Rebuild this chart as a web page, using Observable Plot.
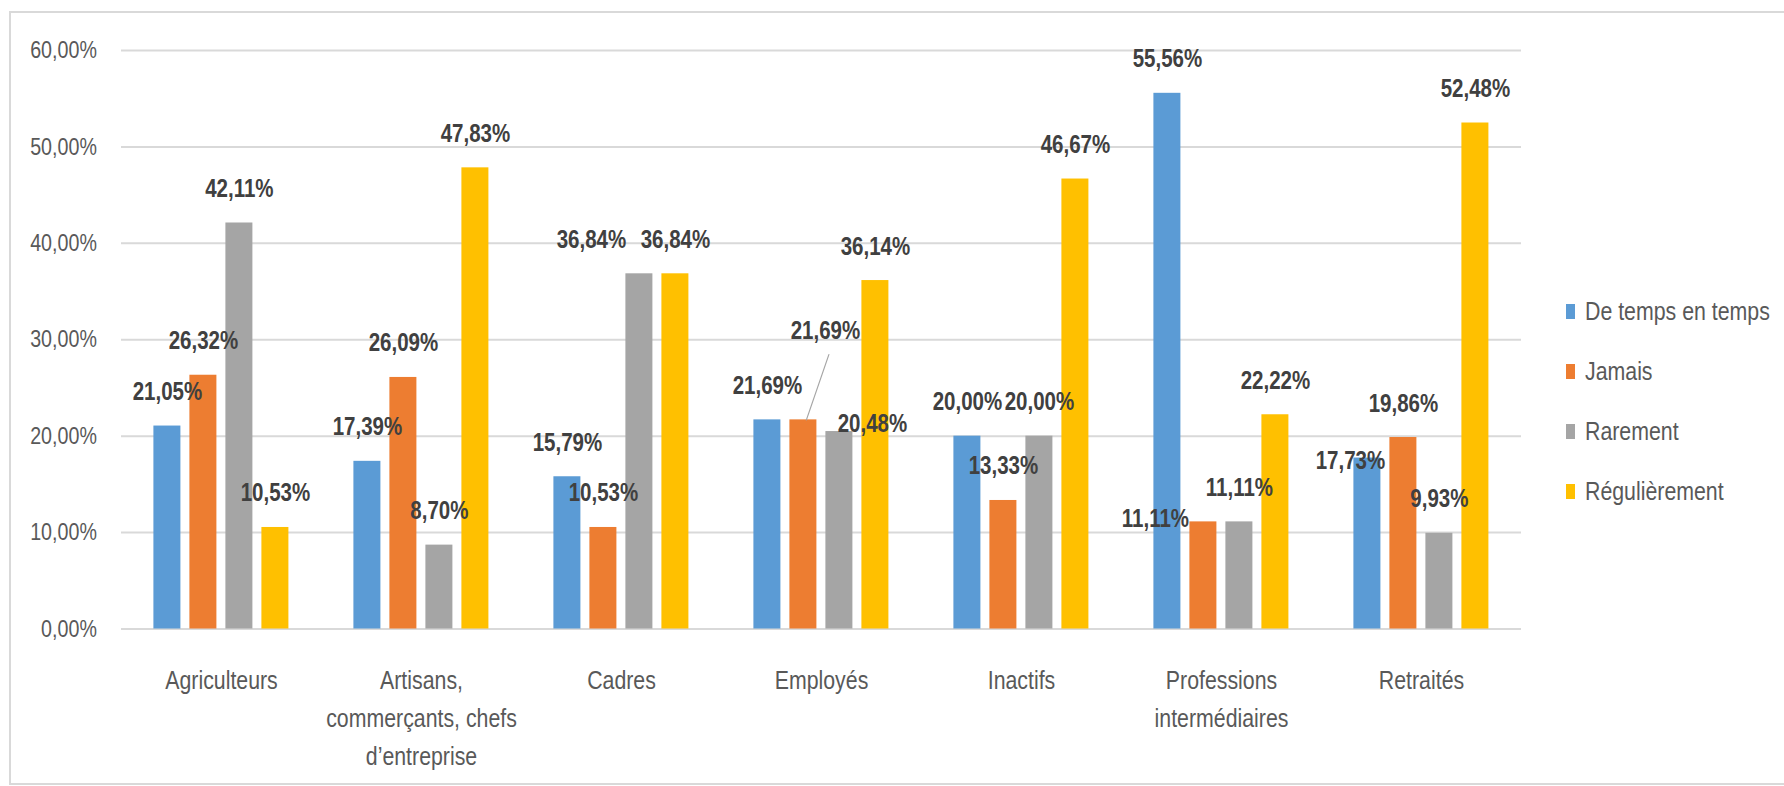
<!DOCTYPE html>
<html><head><meta charset="utf-8">
<script src="https://cdn.jsdelivr.net/npm/d3@7"></script>
<script src="https://cdn.jsdelivr.net/npm/@observablehq/plot@0.6"></script>
<style>
body{margin:0;background:#fff;}
#wrap{position:relative;width:1784px;height:786px;overflow:hidden;font-family:'Liberation Sans',Arial,sans-serif;}
#border{position:absolute;left:9px;top:11px;width:1790px;height:774px;border:2px solid #d9d9d9;border-right:none;box-sizing:border-box;}
#chart{position:absolute;left:0;top:0;}
#legend{position:absolute;left:1566px;top:281px;}
.item{display:flex;align-items:center;height:60px;white-space:nowrap;}
.sw{width:9px;height:15px;margin-right:10px;flex:none;}
.lt{display:inline-block;font-size:26px;color:#595959;transform:scaleX(0.82);transform-origin:left center;}
</style></head><body>
<div id="wrap"><div id="border"></div><div id="chart"></div><div id="legend"></div></div>
<script>
const categories = ["Agriculteurs", "Artisans, commerçants, chefs d’entreprise", "Cadres", "Employés", "Inactifs", "Professions intermédiaires", "Retraités"];
const categoryLabels = ["Agriculteurs", "Artisans,\ncommerçants, chefs\nd’entreprise", "Cadres", "Employés", "Inactifs", "Professions\nintermédiaires", "Retraités"];
const seriesNames = ["De temps en temps", "Jamais", "Rarement", "Régulièrement"];
const seriesColors = ["#5B9BD5", "#ED7D31", "#A5A5A5", "#FFC000"];
const deTempsEnTemps = [21.05, 17.39, 15.79, 21.69, 20.00, 55.56, 17.73];
const jamais = [26.32, 26.09, 10.53, 21.69, 13.33, 11.11, 19.86];
const rarement = [42.11, 8.70, 36.84, 20.48, 20.00, 11.11, 9.93];
const regulierement = [10.53, 47.83, 36.84, 36.14, 46.67, 22.22, 52.48];
const yTicks = [0, 10, 20, 30, 40, 50, 60];

const seriesValues = [deTempsEnTemps, jamais, rarement, regulierement];
const data = categories.flatMap((c, i) => seriesNames.map((s, j) => ({cat: c, series: s, value: seriesValues[j][i]})));
const fmt = v => v.toFixed(2).replace(".", ",") + "%";

// data labels that were dragged by hand in the original chart (pixel offsets)
const nudges = [
  {cat: "Employés", series: "Jamais", dx: 22, dy: -55},
  {cat: "Employés", series: "Rarement", dx: 33, dy: 26},
  {cat: "Cadres", series: "Rarement", dx: -48, dy: 0},
  {cat: "Professions intermédiaires", series: "Jamais", dx: -48, dy: 31},
  {cat: "Retraités", series: "De temps en temps", dx: -17, dy: 37}
];
const match = (d, n) => d.cat === n.cat && d.series === n.series;
const labelOpts = {fx: "cat", x: "series", y: "value", text: d => fmt(d.value), fontSize: 25, fontWeight: "bold", fill: "#404040"};

const chart = Plot.plot({
  width: 1784, height: 786,
  marginTop: 50, marginBottom: 157.5, marginLeft: 118.6, marginRight: 260,
  style: {fontFamily: "'Liberation Sans', Arial, sans-serif", fontSize: "24px", color: "#595959", background: "transparent", overflow: "visible"},
  fx: {domain: categories, padding: 0, label: null},
  x: {domain: seriesNames, paddingInner: 0.242, paddingOuter: 0.88, axis: null},
  y: {domain: [0, 60], label: null},
  color: {domain: seriesNames, range: seriesColors},
  marks: [
    Plot.gridY(yTicks, {stroke: "#d9d9d9", strokeOpacity: 1, strokeWidth: 2}),
    Plot.axisY(yTicks, {tickSize: 0, tickPadding: 24.6, tickFormat: fmt, fontSize: 24, fill: "#595959", label: null}),
    Plot.axisFx({anchor: "bottom", tickSize: 0, tickPadding: 33, fontSize: 26, lineHeight: 1.46, fill: "#595959", label: null,
      tickFormat: c => categoryLabels[categories.indexOf(c)]}),
    Plot.barY(data, {fx: "cat", x: "series", y: "value", fill: "series"}),
    Plot.text(data.filter(d => !nudges.some(n => match(d, n))), {...labelOpts, dy: -34}),
    ...nudges.map(n => Plot.text(data.filter(d => match(d, n)), {...labelOpts, dx: n.dx, dy: -34 + n.dy})),
    Plot.vector(data.filter(d => match(d, nudges[0])), {
      fx: "cat", x: "series", y: "value", length: 69, rotate: 19, anchor: "start", dx: 3,
      stroke: "#a6a6a6", strokeWidth: 1.2,
      shape: {draw(ctx, l) { ctx.moveTo(0, 0); ctx.lineTo(0, -l); }}
    })
  ]
});

// narrow the glyphs (Arial Narrow look of the original) around each text's anchor point
chart.querySelectorAll("text").forEach(t => {
  const tr = t.getAttribute("transform");
  if (tr) t.setAttribute("transform", tr + " scale(0.82,1)");
});
document.getElementById("chart").appendChild(chart);

const legend = document.getElementById("legend");
seriesNames.forEach((s, i) => {
  const item = document.createElement("div");
  item.className = "item";
  const sw = document.createElement("span");
  sw.className = "sw";
  sw.style.background = seriesColors[i];
  const lt = document.createElement("span");
  lt.className = "lt";
  lt.textContent = s;
  item.appendChild(sw);
  item.appendChild(lt);
  legend.appendChild(item);
});
</script>
</body></html>
